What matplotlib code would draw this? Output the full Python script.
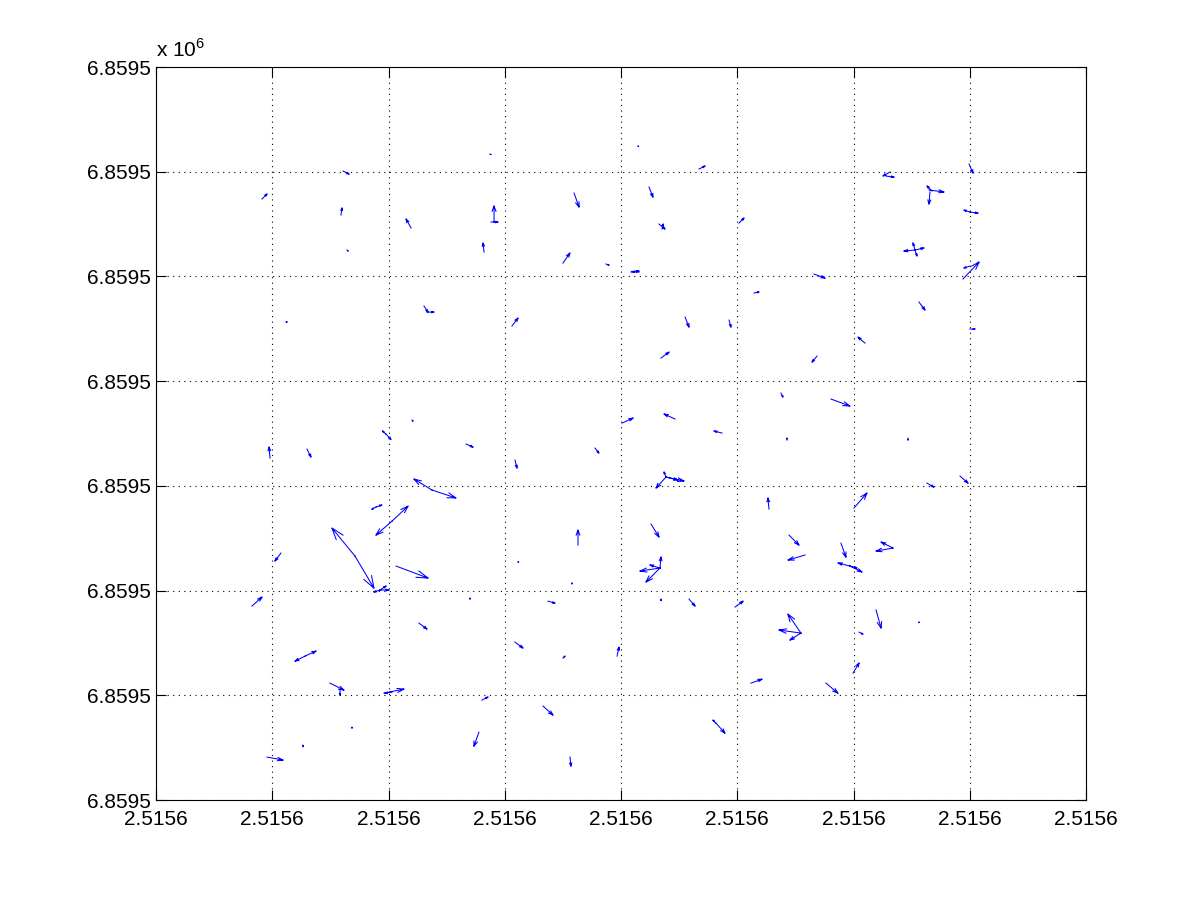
#!/usr/bin/env python3
"""
Quiver plot of displacement vectors (MATLAB-style look).
"""

import numpy as np
import matplotlib
matplotlib.use('Agg')
import matplotlib.pyplot as plt

plt.rcParams['font.family'] = ['Liberation Sans', 'DejaVu Sans']
plt.rcParams['mathtext.fontset'] = 'custom'
plt.rcParams['mathtext.rm'] = 'Liberation Sans'

# local easting / northing of each vector tail (m), rows: upper, middle, lower part
x_pos = [
    9.12, 16.09, 15.91, 16.43, 21.94, 23.05, 23.31, 11.18, 28.73, 29.08, 28.82, 28.22,
    35.96, 35.01, 38.71, 40.86, 41.55, 41.46, 46.71, 42.41, 43.27, 43.53, 50.15, 51.44,
    30.62, 45.51, 49.29, 43.44, 63.14, 62.80, 69.94, 66.49, 66.58, 66.75, 70.02, 70.02,
    65.29, 65.29, 65.29, 65.29, 69.42, 70.02, 56.60, 65.63, 70.02, 60.99, 56.86,
    22.02, 19.78, 19.78, 26.67, 9.81, 12.99, 23.74, 23.74, 18.92, 18.92, 20.30, 20.30,
    17.12, 17.12, 19.27, 19.27, 19.27, 20.65, 10.75, 8.26, 27.01, 30.88, 37.76, 40.09,
    44.65, 48.69, 53.76, 43.87, 43.87, 43.87, 43.87, 52.73, 36.30, 42.58, 43.35, 43.35,
    43.35, 43.35, 31.14, 35.78, 33.72, 43.44, 45.85, 49.81, 58.06, 54.28, 64.69, 66.32,
    69.16, 60.04, 54.45, 55.83, 58.92, 59.70, 59.70, 59.70, 63.40, 63.40,
    22.62, 12.82, 12.82, 14.97, 15.83, 19.61, 20.30, 16.86, 12.65, 9.55, 30.88, 35.01,
    39.66, 55.48, 55.48, 55.48, 51.18, 28.04, 33.29, 27.78, 35.61, 48.17, 48.17, 61.94,
    60.47, 59.96, 57.63, 65.63,
]
y_pos = [
    57.40, 60.07, 55.87, 52.53, 54.63, 47.18, 46.60, 45.65, 61.69, 55.20, 55.20, 52.33,
    57.97, 51.28, 51.19, 50.42, 50.42, 62.46, 60.26, 58.54, 55.01, 54.53, 55.10, 48.42,
    45.27, 46.13, 45.84, 42.21, 59.98, 59.59, 60.74, 58.26, 58.07, 58.16, 56.15, 56.15,
    52.53, 52.53, 52.53, 52.53, 49.76, 51.00, 50.23, 47.56, 44.98, 43.64, 42.40,
    36.29, 34.95, 34.95, 34.00, 32.66, 33.52, 29.61, 29.61, 27.98, 27.98, 26.64, 26.64,
    23.30, 23.30, 20.06, 20.06, 20.06, 22.35, 23.59, 18.53, 19.29, 32.47, 33.62, 36.00,
    36.39, 35.05, 38.87, 30.85, 30.85, 30.85, 30.85, 27.79, 24.35, 26.36, 22.16, 22.16,
    22.16, 22.16, 22.73, 20.63, 19.00, 19.20, 19.20, 18.43, 38.30, 34.38, 34.57, 30.27,
    30.94, 27.89, 25.31, 23.40, 24.54, 22.35, 22.35, 22.35, 24.07, 24.07,
    16.90, 13.75, 13.75, 11.17, 10.51, 10.22, 10.31, 6.97, 5.25, 4.11, 15.09, 13.56,
    13.75, 15.95, 15.95, 15.95, 11.17, 9.55, 8.98, 6.49, 4.11, 7.35, 7.35, 18.15,
    16.04, 12.13, 11.17, 17.00,
]
# vector components (m)
u_vec = [
    0.43, 0.52, 0.09, 0.09, -0.43, 0.34, 0.60, 0.10, 0.09, 0.00, 0.60, -0.09,
    0.43, 0.60, 0.26, 0.69, -0.60, 0.05, 0.52, 0.34, 0.52, 0.09, 0.43, 0.43,
    0.52, 0.34, 0.17, 0.69, -0.60, 0.69, 0.34, 1.29, -0.09, -0.43, -0.52, 0.69,
    -0.95, 0.77, -0.17, 0.17, 1.38, -0.52, 0.95, 0.52, 0.43, -0.60, -0.43,
    0.09, 0.43, -0.30, 0.60, -0.09, 0.34, -1.55, 2.06, 0.50, -0.35, 1.38, -1.38,
    -1.98, 1.63, -0.52, 0.77, 0.52, 2.75, -0.52, 0.86, 0.00, 0.17, 0.34, 0.95,
    -0.95, -0.69, 0.17, -0.86, 1.55, 1.03, -0.17, -0.09, 0.00, 0.69, -1.72, -1.20,
    0.09, -0.86, 0.05, 0.00, 0.60, 0.00, 0.52, 0.69, 1.63, 0.00, 0.00, 0.60,
    0.69, 1.12, 0.86, -1.46, 0.43, -1.03, 1.03, 0.60, -1.46, -1.03,
    0.69, -0.86, 0.95, 1.20, 0.00, 1.72, -0.60, 0.00, 0.00, 1.38, 0.69, 0.17,
    0.17, -1.89, -1.12, -0.95, 0.95, 0.52, 0.86, -0.43, 0.09, 0.77, -0.26, 0.43,
    0.34, 0.52, 1.03, 0.00,
]
v_vec = [
    0.48, -0.29, 0.67, -0.10, 0.86, -0.57, 0.00, 0.00, -0.05, 1.53, 0.00, 0.86,
    -1.34, 0.96, -0.10, 0.10, 0.05, -0.05, 0.29, -0.96, -0.48, 0.48, 0.48, 0.10,
    0.76, -0.96, -0.67, 0.57, -0.38, -0.10, -0.86, -0.19, -1.15, 0.48, 0.19, -0.10,
    -0.10, 0.19, 0.67, -0.57, 1.62, -0.19, -0.38, -0.76, 0.00, 0.57, -0.57,
    -0.10, -0.50, 0.30, -0.29, 1.05, -0.76, 1.05, -0.76, 0.20, -0.20, 1.43, -1.34,
    2.67, -3.06, -0.19, 0.00, 0.38, -1.15, -0.76, 0.86, -0.10, -0.76, -0.48, 0.48,
    0.48, 0.19, -0.38, -1.05, -0.38, -0.29, 0.48, 1.05, 1.43, -1.24, -0.29, -1.34,
    1.05, 0.29, 0.00, 0.10, -0.19, -0.15, -0.67, 0.57, -0.67, 0.19, -0.19, -0.38,
    -0.67, 1.43, -0.96, -0.48, -1.34, 0.29, -0.57, -0.19, -0.29, 0.57,
    -0.57, -0.48, 0.48, -0.67, -0.48, 0.38, -0.10, -0.10, -0.15, -0.29, -0.57, 0.19,
    0.86, 0.29, 1.81, -0.67, 0.38, 0.29, -0.86, -1.34, -0.86, -0.96, 0.29, -1.72,
    -0.19, 0.96, -0.96, -0.05,
]

x_ticks = [0, 10, 20, 30, 40, 50, 60, 70, 80]
y_ticks = [0, 10, 20, 30, 40, 50, 60, 70]
x_tick_labels = ['2.5156'] * 9
y_tick_labels = ['6.8595'] * 8


def quiver_lines(x, y, u, v, alpha=0.33, beta=0.33):
    """Shaft + open arrowhead segments, like MATLAB's quiver (scale 0)."""
    x, y, u, v = map(np.asarray, (x, y, u, v))
    eps = 1e-12
    xe, ye = x + u, y + v
    nan = np.full_like(x, np.nan)
    # shaft
    sx = np.column_stack([x, xe, nan]).ravel()
    sy = np.column_stack([y, ye, nan]).ravel()
    # head
    hx = np.column_stack([xe - alpha * (u + beta * (v + eps)), xe,
                          xe - alpha * (u - beta * (v + eps)), nan]).ravel()
    hy = np.column_stack([ye - alpha * (v - beta * (u + eps)), ye,
                          ye - alpha * (v + beta * (u + eps)), nan]).ravel()
    return np.concatenate([sx, hx]), np.concatenate([sy, hy])


fig = plt.figure(figsize=(12, 9), dpi=100)
ax = fig.add_axes([0.13, 0.111, 0.775, 0.8145])

lx, ly = quiver_lines(x_pos, y_pos, u_vec, v_vec)
ax.plot(lx, ly, color='#0000ff', lw=0.75, solid_joinstyle='miter')

ax.set_xlim(x_ticks[0], x_ticks[-1])
ax.set_ylim(y_ticks[0], y_ticks[-1])
ax.set_xticks(x_ticks, x_tick_labels)
ax.set_yticks(y_ticks, y_tick_labels)
ax.tick_params(direction='in', length=7, width=0.8, top=True, right=True,
               labelsize=15)
ax.tick_params(axis='x', pad=7)
ax.tick_params(axis='y', pad=4)
ax.grid(True, color='black', linestyle=(0, (1, 4)), linewidth=0.8)
for sp in ax.spines.values():
    sp.set_linewidth(0.8)

ax.text(0.0, 1.008, r'x 10$^{\mathregular{6}}$', transform=ax.transAxes,
        ha='left', va='bottom', fontsize=15)

fig.savefig('out.png', dpi=100, facecolor='white')
